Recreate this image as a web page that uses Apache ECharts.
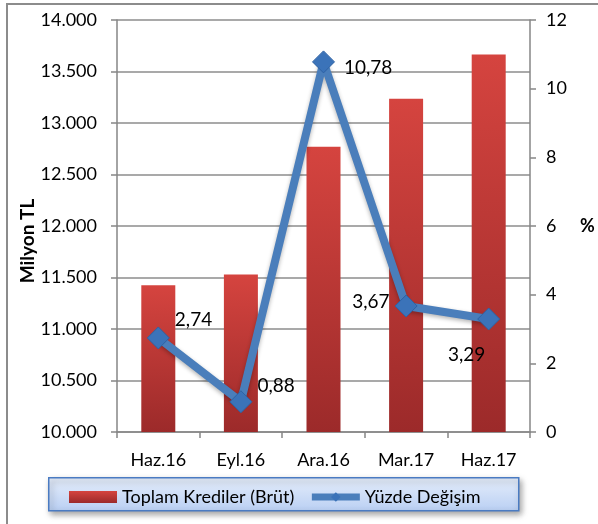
<!DOCTYPE html>
<html>
<head>
<meta charset="utf-8">
<script src="https://cdn.jsdelivr.net/npm/echarts@6/dist/echarts.min.js"></script>
<style>
  body { margin: 0; background: #fff; }
  #wrap { position: relative; width: 598px; height: 524px; overflow: hidden; }
  #frame { position: absolute; left: 6px; top: 3px; width: 700px; height: 700px; border: 2px solid #8c8c8c; box-sizing: border-box; }
  #chart { position: absolute; left: 0; top: 0; width: 598px; height: 524px; }
</style>
</head>
<body>
<div id="wrap">
  <div id="frame"></div>
  <div id="chart"></div>
</div>
<script>
// donem etiketleri
var categories = ['Haz.16', 'Eyl.16', 'Ara.16', 'Mar.17', 'Haz.17'];
// toplam krediler (milyon TL)
var krediler = [11425, 11530, 12770, 13235, 13665];
// yuzde degisim
var degisim = [2.74, 0.88, 10.78, 3.67, 3.29];
var labelPos = ['right', 'right', 'right', 'left', 'bottom'];
var labelOffset = [[0, -18], [0, -16], [4, 6], [0, -4], [-22, 10]];

var font = 'Lato, "Open Sans", sans-serif';
var myChart = echarts.init(document.getElementById('chart'));

var lineData = degisim.map(function (v, i) {
    return {
        value: v,
        label: { position: labelPos[i], offset: labelOffset[i] }
    };
});

var option = {
    animation: false,
    grid: { left: 117, right: 68, top: 20, bottom: 92 },
    graphic: [{
        type: 'rect',
        left: 48, top: 477,
        shape: { width: 470, height: 33 },
        style: {
            fill: new echarts.graphic.LinearGradient(0, 0, 0, 1, [
                { offset: 0, color: '#e6eefb' },
                { offset: 1, color: '#b9cff3' }
            ]),
            stroke: '#4a7bc2',
            lineWidth: 1.5,
            shadowBlur: 6,
            shadowOffsetX: 2,
            shadowOffsetY: 3,
            shadowColor: 'rgba(0,0,0,0.35)'
        },
        z: 0
    }],
    legend: {
        left: 64, top: 483,
        itemGap: 14,
        itemWidth: 48,
        itemHeight: 12,
        textStyle: { fontFamily: font, fontSize: 18, color: '#000' },
        data: [
            { name: 'Toplam Krediler (Brüt)', icon: 'rect' },
            { name: 'Yüzde Değişim', lineStyle: { width: 7, shadowBlur: 0 }, itemStyle: { borderWidth: 0 } }
        ],
        z: 5
    },
    xAxis: {
        type: 'category',
        data: categories,
        axisLine: { lineStyle: { color: '#868686', width: 1.5 } },
        axisTick: { show: true, length: 6, lineStyle: { color: '#868686', width: 1.5 } },
        axisLabel: { fontFamily: font, fontSize: 18, color: '#000', margin: 19 }
    },
    yAxis: [{
        type: 'value',
        min: 10000, max: 14000, interval: 500,
        name: 'Milyon TL',
        nameLocation: 'middle',
        nameMoveOverlap: false,
        nameGap: 80,
        nameTextStyle: { fontFamily: font, fontSize: 19, fontWeight: 'bold', color: '#000', padding: [0, 30, 0, 0] },
        axisLine: { show: true, lineStyle: { color: '#868686', width: 1.5 } },
        axisTick: { show: true, length: 6, lineStyle: { color: '#868686', width: 1.5 } },
        splitLine: { lineStyle: { color: '#8c8c8c', width: 1.5 } },
        axisLabel: {
            fontFamily: font, fontSize: 18, color: '#000', margin: 20,
            formatter: function (v) {
                return (v / 1000).toFixed(3);
            }
        }
    }, {
        type: 'value',
        min: 0, max: 12, interval: 2,
        name: '%',
        nameLocation: 'middle',
        nameGap: 50,
        nameRotate: 0,
        nameTextStyle: { fontFamily: font, fontSize: 18, fontWeight: 'bold', color: '#000' },
        axisLine: { show: true, lineStyle: { color: '#868686', width: 1.5 } },
        axisTick: { show: true, length: 6, lineStyle: { color: '#868686', width: 1.5 } },
        splitLine: { show: false },
        axisLabel: { fontFamily: font, fontSize: 18, color: '#000', margin: 16 }
    }],
    series: [{
        name: 'Toplam Krediler (Brüt)',
        type: 'bar',
        data: krediler,
        barWidth: 34,
        itemStyle: {
            color: new echarts.graphic.LinearGradient(0, 0, 0, 1, [
                { offset: 0, color: '#d5443f' },
                { offset: 1, color: '#9c2a2a' }
            ])
        }
    }, {
        name: 'Yüzde Değişim',
        type: 'line',
        yAxisIndex: 1,
        data: lineData,
        symbol: 'diamond',
        symbolSize: 22,
        lineStyle: {
            color: '#4a7ebb', width: 8,
            shadowBlur: 4, shadowOffsetY: 2, shadowColor: 'rgba(0,0,0,0.3)'
        },
        itemStyle: { color: '#3b73b9', borderColor: '#2f62a3', borderWidth: 1 },
        label: {
            show: true,
            fontFamily: font, fontSize: 19, color: '#000',
            formatter: function (p) {
                return p.value.toFixed(2).replace('.', ',');
            }
        },
        z: 3
    }]
};
myChart.setOption(option);
</script>
</body>
</html>
